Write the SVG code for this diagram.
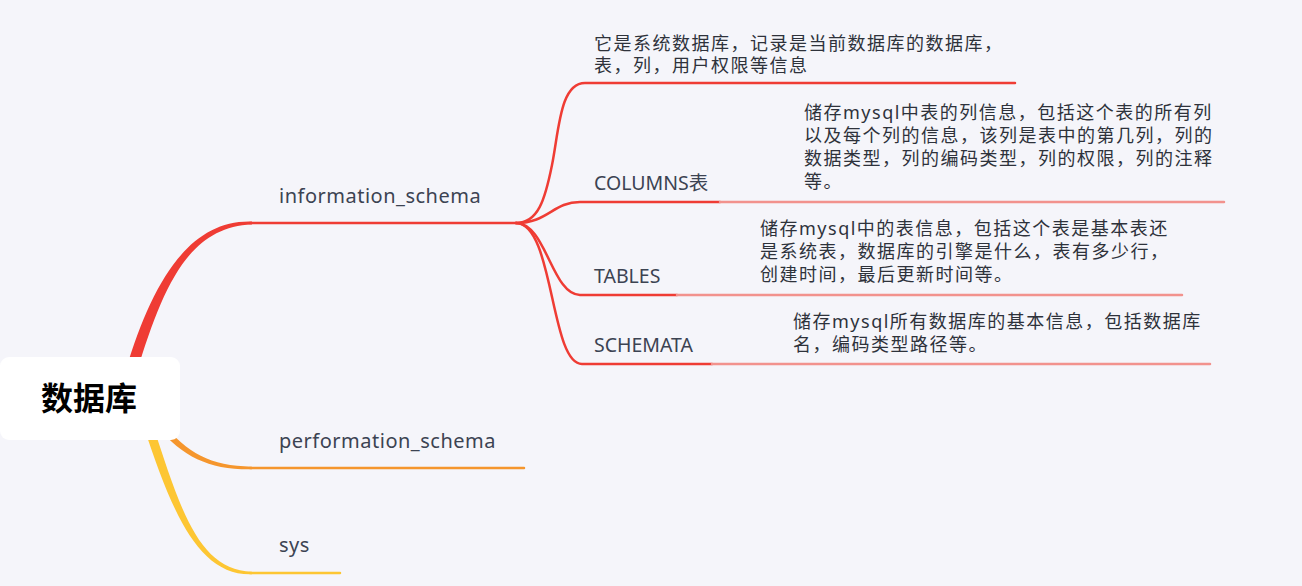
<svg xmlns="http://www.w3.org/2000/svg" width="1302" height="586" viewBox="0 0 1302 586">
<style>
.l1{font-family:"Noto Sans","Open Sans","Noto Sans CJK SC",sans-serif;font-size:20px;letter-spacing:0.5px;fill:#3c4352}
.l2{font-family:"Noto Sans","Open Sans","Noto Sans CJK SC",sans-serif;font-size:19.5px;fill:#3c4352}
.d{font-family:"Noto Sans","Noto Sans CJK SC",sans-serif;font-size:18px;letter-spacing:1.5px;fill:#2e323b}
.root{font-family:"Noto Sans CJK SC","Noto Sans",sans-serif;font-size:32px;font-weight:bold;fill:#000}
.ln{fill:none;stroke-width:2.5;stroke-linecap:round}
.red{stroke:#ef3c34}
.lt{stroke:#f2928d}
.or{stroke:#f5962d}
.ye{stroke:#fdc633}
</style>
<rect x="0" y="0" width="1302" height="586" fill="#f5f5fa"/>
<g id="connectors">
  <path d="M125.7 370.3 C152.5 280.5 190 219.5 252 221.6 L252 224.4 C190 226.5 163.5 283.5 136.3 373.7 Z" fill="#ef3c34"/>
  <path d="M162.3 423.1 C187.3 453.1 210 466 252 466.7 L252 469.3 C210 470 182.7 456.9 157.7 426.9 Z" fill="#f5962d"/>
  <path d="M152.3 423.6 C180.3 508.6 198 570 252 571.7 L252 574.3 C198 576 171.7 511.4 143.7 426.4 Z" fill="#fdc633"/>
  <line class="ln red" x1="250" y1="223" x2="516" y2="223"/>
  <line class="ln or" x1="250" y1="468" x2="524" y2="468"/>
  <line class="ln ye" x1="250" y1="573" x2="340" y2="573"/>
  <path class="ln red" d="M516 223 C538 223 545 200 552 165 S560 83 585 83 L1015 83"/>
  <path class="ln red" d="M516 223 C548 223 553 202 580 202 L720 202"/>
  <line class="ln lt" x1="720" y1="202" x2="1224" y2="202"/>
  <path class="ln red" d="M516 223 C546 223 552 295 580 295 L677 295"/>
  <line class="ln lt" x1="677" y1="295" x2="1182" y2="295"/>
  <path class="ln red" d="M516 223 C554 223 550 364 582 364 L712 364"/>
  <line class="ln lt" x1="712" y1="364" x2="1210" y2="364"/>
</g>
<g id="root">
  <rect x="0" y="357" width="180" height="83" rx="9" fill="#ffffff"/>
  <text class="root" x="89" y="410" text-anchor="middle">数据库</text>
</g>
<g id="information_schema">
  <text class="l1" x="279" y="203">information_schema</text>
</g>
<g id="performation_schema">
  <text class="l1" x="279" y="448">performation_schema</text>
</g>
<g id="sys">
  <text class="l1" x="279" y="552">sys</text>
</g>
<g id="info_desc">
  <text class="d" x="594" y="50">它是系统数据库，记录是当前数据库的数据库，</text>
  <text class="d" x="594" y="72">表，列，用户权限等信息</text>
</g>
<g id="columns">
  <text class="l2" x="594" y="190">COLUMNS表</text>
</g>
<g id="columns_desc">
  <text class="d" x="804" y="119">储存mysql中表的列信息，包括这个表的所有列</text>
  <text class="d" x="804" y="142">以及每个列的信息，该列是表中的第几列，列的</text>
  <text class="d" x="804" y="165">数据类型，列的编码类型，列的权限，列的注释</text>
  <text class="d" x="804" y="188">等。</text>
</g>
<g id="tables">
  <text class="l2" x="594" y="283">TABLES</text>
</g>
<g id="tables_desc">
  <text class="d" x="760" y="235">储存mysql中的表信息，包括这个表是基本表还</text>
  <text class="d" x="760" y="258">是系统表，数据库的引擎是什么，表有多少行，</text>
  <text class="d" x="760" y="281">创建时间，最后更新时间等。</text>
</g>
<g id="schemata">
  <text class="l2" x="594" y="352">SCHEMATA</text>
</g>
<g id="schemata_desc">
  <text class="d" x="793" y="328">储存mysql所有数据库的基本信息，包括数据库</text>
  <text class="d" x="793" y="351">名，编码类型路径等。</text>
</g>
</svg>
